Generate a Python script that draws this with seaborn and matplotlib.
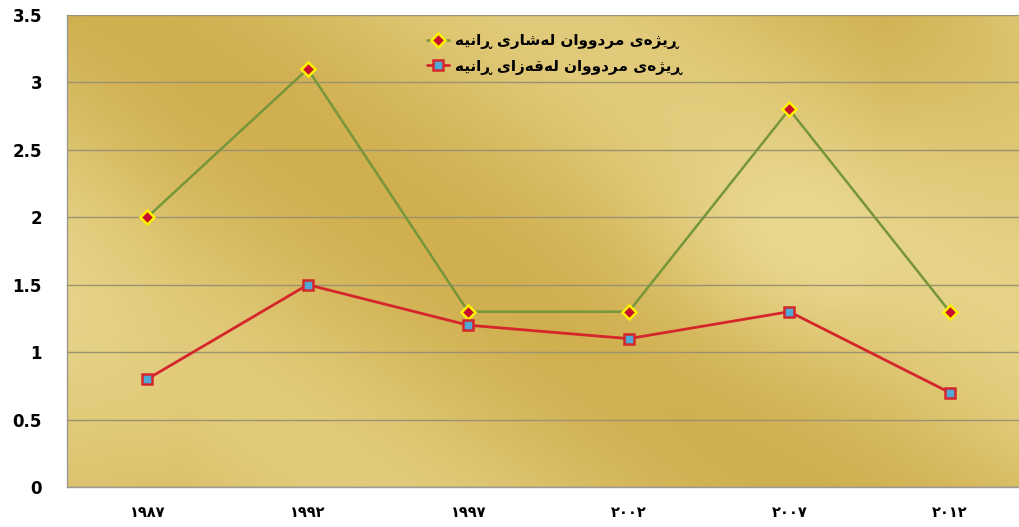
import numpy as np
import pandas as pd
import matplotlib
matplotlib.use("Agg")
import matplotlib.pyplot as plt
import seaborn as sns

# data
years = ["١٩٨٧", "١٩٩٢", "١٩٩٧", "٢٠٠٢", "٢٠٠٧", "٢٠١٢"]
city_rate = [2.0, 3.1, 1.3, 1.3, 2.8, 1.3]
district_rate = [0.8, 1.5, 1.2, 1.1, 1.3, 0.7]
city_label = "ڕێژەی مردووان لەشاری ڕانیە"
district_label = "ڕێژەی مردووان لەقەزای ڕانیە"
y_ticks = [0, 0.5, 1, 1.5, 2, 2.5, 3, 3.5]
y_labels = ["0", "0.5", "1", "1.5", "2", "2.5", "3", "3.5"]

# simple arabic-script shaping (matplotlib has no bidi / joining)
forms = {
    "ا": ("\uFE8D", "\uFE8E", None, None),
    "د": ("\uFEA9", "\uFEAA", None, None),
    "ر": ("\uFEAD", "\uFEAE", None, None),
    "ڕ": ("\u0695", "\u0695", None, None),
    "ز": ("\uFEAF", "\uFEB0", None, None),
    "ژ": ("\uFB8A", "\uFB8B", None, None),
    "و": ("\uFEED", "\uFEEE", None, None),
    "ە": ("\uFEE9", "\uFEEA", None, None),
    "م": ("\uFEE1", "\uFEE2", "\uFEE3", "\uFEE4"),
    "ن": ("\uFEE5", "\uFEE6", "\uFEE7", "\uFEE8"),
    "ل": ("\uFEDD", "\uFEDE", "\uFEDF", "\uFEE0"),
    "ش": ("\uFEB5", "\uFEB6", "\uFEB7", "\uFEB8"),
    "ق": ("\uFED5", "\uFED6", "\uFED7", "\uFED8"),
    "ی": ("\uFBFC", "\uFBFD", "\uFBFE", "\uFBFF"),
    "ێ": ("\u06CE", "\u06CE", "\uFBFE", "\uFBFF"),
}


def shape(text):
    out = []
    for i, ch in enumerate(text):
        if ch not in forms:
            out.append(ch)
            continue
        prev = text[i - 1] if i > 0 else " "
        nxt = text[i + 1] if i + 1 < len(text) else " "
        jp = prev in forms and forms[prev][2] is not None
        jn = nxt in forms and forms[ch][2] is not None
        iso, fin, ini, med = forms[ch]
        if jp and jn:
            out.append(med)
        elif jp:
            out.append(fin)
        elif jn:
            out.append(ini)
        else:
            out.append(iso)
    return "".join(out)[::-1]


sns.set_style("white")
plt.rcParams["font.family"] = ["DejaVu Sans"]

fig = plt.figure(figsize=(10.19, 5.27), dpi=100)
ax = fig.add_axes([67 / 1019, 40 / 527, 963 / 1019, 472 / 527])

# golden textured background
h, w = 200, 400
yy, xx = np.mgrid[0:1:h * 1j, 0:1:w * 1j]
t = xx * 1.0 - yy * 0.7
band = 0.5 + 0.5 * np.sin(t * 7.0 + 1.2)
blob = np.exp(-((xx - 0.75) ** 2 / 0.02 + (yy - 0.5) ** 2 / 0.05))
light = np.array([0.91, 0.84, 0.55])
dark = np.array([0.80, 0.66, 0.27])
mix = 0.25 + 0.6 * band - 0.35 * blob
mix -= np.clip((xx - 0.85) / 0.15, 0, 1) * (1 - yy) * 0.5
mix -= np.clip((0.12 - xx) / 0.12, 0, 1) * yy * 0.3
mix = np.clip(mix, 0, 1)[..., None]
img = light * (1 - mix) + dark * mix
ax.imshow(img, extent=(-0.5, 5.5, 0, 3.5), aspect="auto", zorder=0)

df = pd.DataFrame({"year": years, "city": city_rate, "district": district_rate})

sns.lineplot(data=df, x="year", y="city", ax=ax, sort=False, color="#77963A",
             linewidth=1.8, marker="D", markersize=7.5, markerfacecolor="#C8102E",
             markeredgecolor="#FFF200", markeredgewidth=1.8, label=shape(city_label), zorder=3)
sns.lineplot(data=df, x="year", y="district", ax=ax, sort=False, color="#D4262B",
             linewidth=2, marker="s", markersize=7.5, markerfacecolor="#4FA8D8",
             markeredgecolor="#D4262B", markeredgewidth=1.8, label=shape(district_label), zorder=3)

ax.set_xlim(-0.5, 5.5)
ax.set_ylim(0, 3.5)
ax.set_yticks(y_ticks)
ax.set_yticklabels(y_labels, fontsize=12, fontweight="bold", color="black")
ax.set_xticks(range(len(years)))
ax.set_xticklabels(years, fontsize=10.5, fontweight="bold", color="black")
ax.set_xticks(np.arange(-0.5, 6, 1), minor=True)
ax.tick_params(axis="x", which="major", length=0, pad=13)
ax.tick_params(axis="x", which="minor", length=7, color="#9a9a9a", direction="out")
ax.tick_params(axis="y", length=7, color="#9a9a9a", direction="out", pad=11)
ax.yaxis.grid(True, color="#9b9270", linewidth=1, zorder=1)
ax.set_axisbelow(False)
ax.set_xlabel("")
ax.set_ylabel("")
for s in ["top", "right"]:
    ax.spines[s].set_visible(False)
for s in ["left", "bottom"]:
    ax.spines[s].set_color("#9a9a9a")
    ax.spines[s].set_linewidth(1)

leg = ax.legend(loc="upper left", bbox_to_anchor=(0.36, 0.99), frameon=False,
                handlelength=1.4, handletextpad=0.4, labelspacing=0.6,
                prop={"size": 11, "weight": "bold"})
for txt in leg.get_texts():
    txt.set_color("black")

fig.savefig("out.png", dpi=100)
